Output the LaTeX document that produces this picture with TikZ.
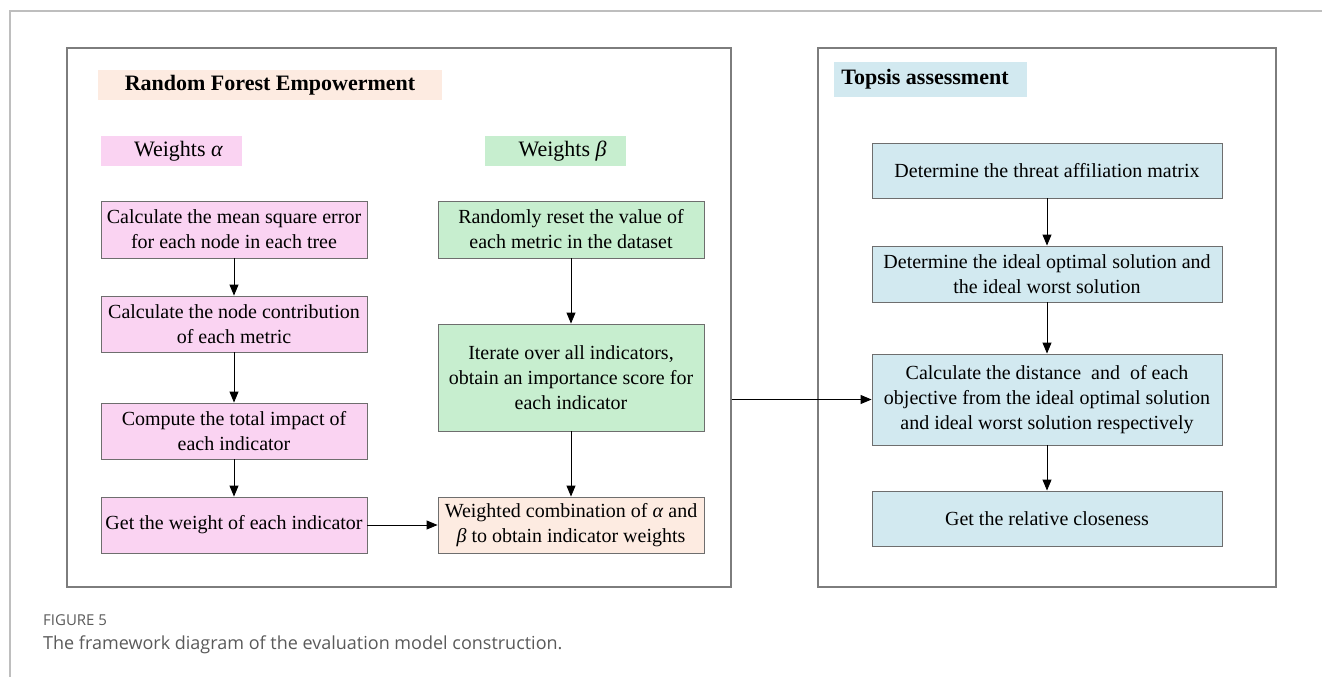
\documentclass[tikz,border=0pt]{standalone}
\usepackage{fontspec}
\setmainfont{Liberation Serif}
\newfontfamily\capfont{Open Sans}
\usetikzlibrary{arrows.meta}
\definecolor{pinkfill}{RGB}{250,211,242}
\definecolor{greenfill}{RGB}{199,238,207}
\definecolor{peachfill}{RGB}{253,235,225}
\definecolor{bluefill}{RGB}{210,233,240}
\definecolor{boxline}{RGB}{110,110,110}
\definecolor{panelline}{RGB}{125,125,125}
\definecolor{frameline}{RGB}{190,190,190}
\definecolor{captext}{RGB}{90,90,90}
\tikzset{
  box/.style={draw=boxline, line width=0.9pt, inner sep=0pt, align=center,
    font=\fontsize{20}{25}\selectfont},
  panel/.style={draw=panelline, line width=1.2pt, inner sep=0pt},
  tag/.style={inner sep=0pt, align=center},
  arr/.style={-{Triangle[length=11pt,width=9pt]}, line width=0.9pt, black},
}
\begin{document}
\begin{tikzpicture}[x=1pt,y=-1pt]
\useasboundingbox (0,0) rectangle (1322,677);
% outer page rules
\draw[frameline, line width=1.3pt] (10,677) -- (10,11) -- (1322,11);

% panels
\node[panel, minimum width=664pt, minimum height=539pt] (lp) at (399,317.5) {};
\node[panel, minimum width=458pt, minimum height=539pt] (rp) at (1047,317.5) {};

% headings
\node[tag, fill=peachfill, minimum width=344pt, minimum height=30pt,
  font=\fontsize{22}{24}\selectfont\bfseries] (rft) at (270,85) {Random Forest Empowerment};
\node[tag, fill=pinkfill, minimum width=141pt, minimum height=30pt,
  font=\fontsize{22}{24}\selectfont] (wa) at (171.5,151) {\hspace*{14pt}Weights \textit{α}};
\node[tag, fill=greenfill, minimum width=141pt, minimum height=30pt,
  font=\fontsize{22}{24}\selectfont] (wb) at (555.5,151) {\hspace*{14pt}Weights \textit{β}};
\node[tag, fill=bluefill, minimum width=193pt, minimum height=35pt,
  font=\fontsize{22}{24}\selectfont\bfseries] (tp) at (930.5,79.5) {Topsis assessment\hspace*{11pt}};

% weights alpha column
\node[box, fill=pinkfill, minimum width=266pt, minimum height=57pt] (l1) at (234,229.5)
  {Calculate the mean square error\\for each node in each tree};
\node[box, fill=pinkfill, minimum width=266pt, minimum height=56pt] (l2) at (234,324)
  {Calculate the node contribution\\of each metric};
\node[box, fill=pinkfill, minimum width=266pt, minimum height=56pt] (l3) at (234,431)
  {Compute the total impact of\\each indicator};
\node[box, fill=pinkfill, minimum width=266pt, minimum height=56pt] (l4) at (234,525)
  {Get the weight of each indicator};

% weights beta column
\node[box, fill=greenfill, minimum width=266pt, minimum height=57pt] (m1) at (571,229.5)
  {Randomly reset the value of\\each metric in the dataset};
\node[box, fill=greenfill, minimum width=266pt, minimum height=107pt] (m2) at (571,377.5)
  {Iterate over all indicators,\\obtain an importance score for\\each indicator};
\node[box, fill=peachfill, minimum width=266pt, minimum height=56pt] (m3) at (571,525)
  {Weighted combination of \textit{α} and\\\textit{β} to obtain indicator weights};

% topsis column
\node[box, fill=bluefill, minimum width=350pt, minimum height=55pt] (r1) at (1047,170.5)
  {Determine the threat affiliation matrix};
\node[box, fill=bluefill, minimum width=350pt, minimum height=56pt] (r2) at (1047,274)
  {Determine the ideal optimal solution and\\the ideal worst solution};
\node[box, fill=bluefill, minimum width=350pt, minimum height=91pt] (r3) at (1047,399.5)
  {Calculate the distance\ \ and\ \ of each\\objective from the ideal optimal solution\\and ideal worst solution respectively};
\node[box, fill=bluefill, minimum width=350pt, minimum height=55pt] (r4) at (1047,518.5)
  {Get the relative closeness};

% connectors
\draw[arr] (l1) -- (l2);
\draw[arr] (l2) -- (l3);
\draw[arr] (l3) -- (l4);
\draw[arr] (m1) -- (m2);
\draw[arr] (m2) -- (m3);
\draw[arr] (l4) -- (m3);
\draw[arr] (r1) -- (r2);
\draw[arr] (r2) -- (r3);
\draw[arr] (r3) -- (r4);
\draw[arr] (lp.east |- r3.west) -- (r3.west);

% caption
\node[anchor=base west, inner sep=0pt, text=captext, font=\capfont\fontsize{15}{17}\selectfont] (fig) at (43,625) {FIGURE 5};
\node[anchor=base west, inner sep=0pt, text=captext, font=\capfont\fontsize{18}{21}\selectfont] (cap) at (43,649) {The framework diagram of the evaluation model construction.};
\end{tikzpicture}
\end{document}
